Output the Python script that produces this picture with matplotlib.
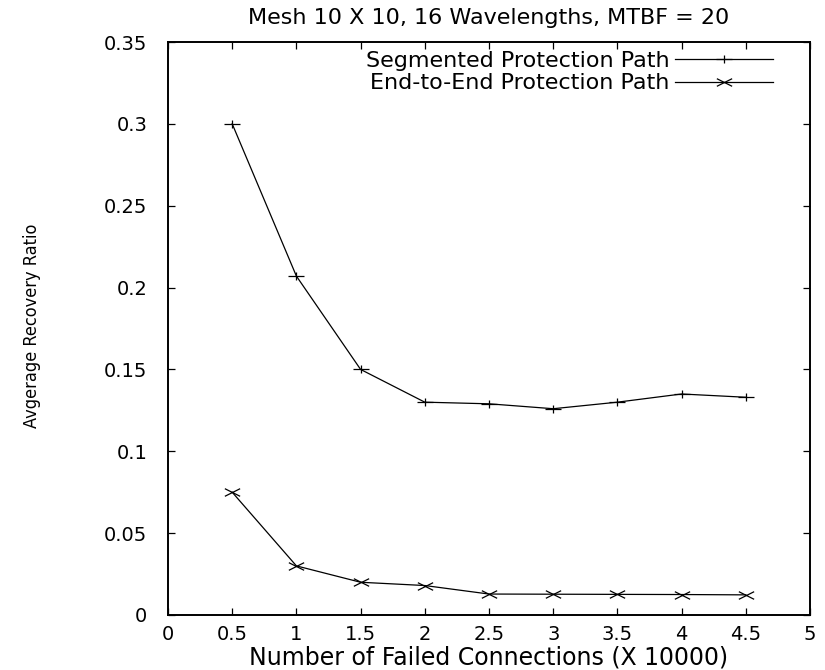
import matplotlib
matplotlib.use("Agg")
import matplotlib.pyplot as plt
from matplotlib.path import Path
from matplotlib import font_manager as fm

x = [0.5, 1.0, 1.5, 2.0, 2.5, 3.0, 3.5, 4.0, 4.5]
segmented = [0.300, 0.207, 0.150, 0.130, 0.129, 0.126, 0.130, 0.135, 0.133]
end_to_end = [0.075, 0.030, 0.020, 0.018, 0.0128, 0.0127, 0.0126, 0.0125, 0.0123]
xticks = [0, 0.5, 1, 1.5, 2, 2.5, 3, 3.5, 4, 4.5, 5]
yticks = [0, 0.05, 0.1, 0.15, 0.2, 0.25, 0.3, 0.35]

plt.rcParams['font.family'] = ['DejaVu Sans']

# pick a condensed face for the y label if one is available
entries = fm.fontManager.ttflist
names = {f.name for f in entries}
if 'Liberation Sans Narrow' in names:
    ylab_kw = dict(family=['Liberation Sans Narrow', 'DejaVu Sans'], fontsize=14)
elif any(f.name == 'DejaVu Sans' and 'condensed' in str(f.stretch) for f in entries):
    ylab_kw = dict(family=['DejaVu Sans'], fontstretch='condensed', fontsize=13)
else:
    ylab_kw = dict(family=['Liberation Sans', 'DejaVu Sans'], fontsize=12)

# wide, flat markers (the reference is horizontally stretched)
plus_m = Path([(-1, 0), (1, 0), (0, -0.5), (0, 0.5)],
              [Path.MOVETO, Path.LINETO, Path.MOVETO, Path.LINETO])
cross_m = Path([(-1, -0.5), (1, 0.5), (-1, 0.5), (1, -0.5)],
               [Path.MOVETO, Path.LINETO, Path.MOVETO, Path.LINETO])

fig = plt.figure(figsize=(8.25, 6.70), dpi=100)
ax = fig.add_axes([168/825, 1 - 615/670, (810-168)/825, (615-42)/670])

ax.plot(x, segmented, color='black', lw=0.9, marker=plus_m, ms=11, mew=0.9,
        label='Segmented Protection Path')
ax.plot(x, end_to_end, color='black', lw=0.9, marker=cross_m, ms=11, mew=0.9,
        label='End-to-End Protection Path')

ax.set_xlim(0, 5)
ax.set_ylim(0, 0.35)
ax.set_xticks(xticks)
ax.set_xticklabels([f"{t:g}" for t in xticks])
ax.set_yticks(yticks)
ax.set_yticklabels([f"{t:g}" for t in yticks])
ax.tick_params(axis='both', direction='in', length=5, width=0.9, top=True,
               right=True, labelsize=14)
ax.tick_params(axis='y', pad=15)
ax.tick_params(axis='x', pad=7)
for s in ax.spines.values():
    s.set_linewidth(1.4)

fig.text(489/825, 1 - 18/670, 'Mesh 10 X 10, 16 Wavelengths, MTBF = 20',
         fontsize=16, ha='center', va='center')
fig.text(489/825, 1 - 657/670, 'Number of Failed Connections (X 10000)',
         fontsize=17, ha='center', va='center')
fig.text(32/825, 1 - 326/670, 'Avgerage Recovery Ratio', rotation=90,
         ha='center', va='center', **ylab_kw)

ax.legend(loc='upper right', bbox_to_anchor=(0.942, 0.984), frameon=False,
          markerfirst=False, fontsize=16, handlelength=4.4,
          handletextpad=0.25, labelspacing=0.1, borderaxespad=0, borderpad=0)

fig.savefig('out.png', dpi=100)
